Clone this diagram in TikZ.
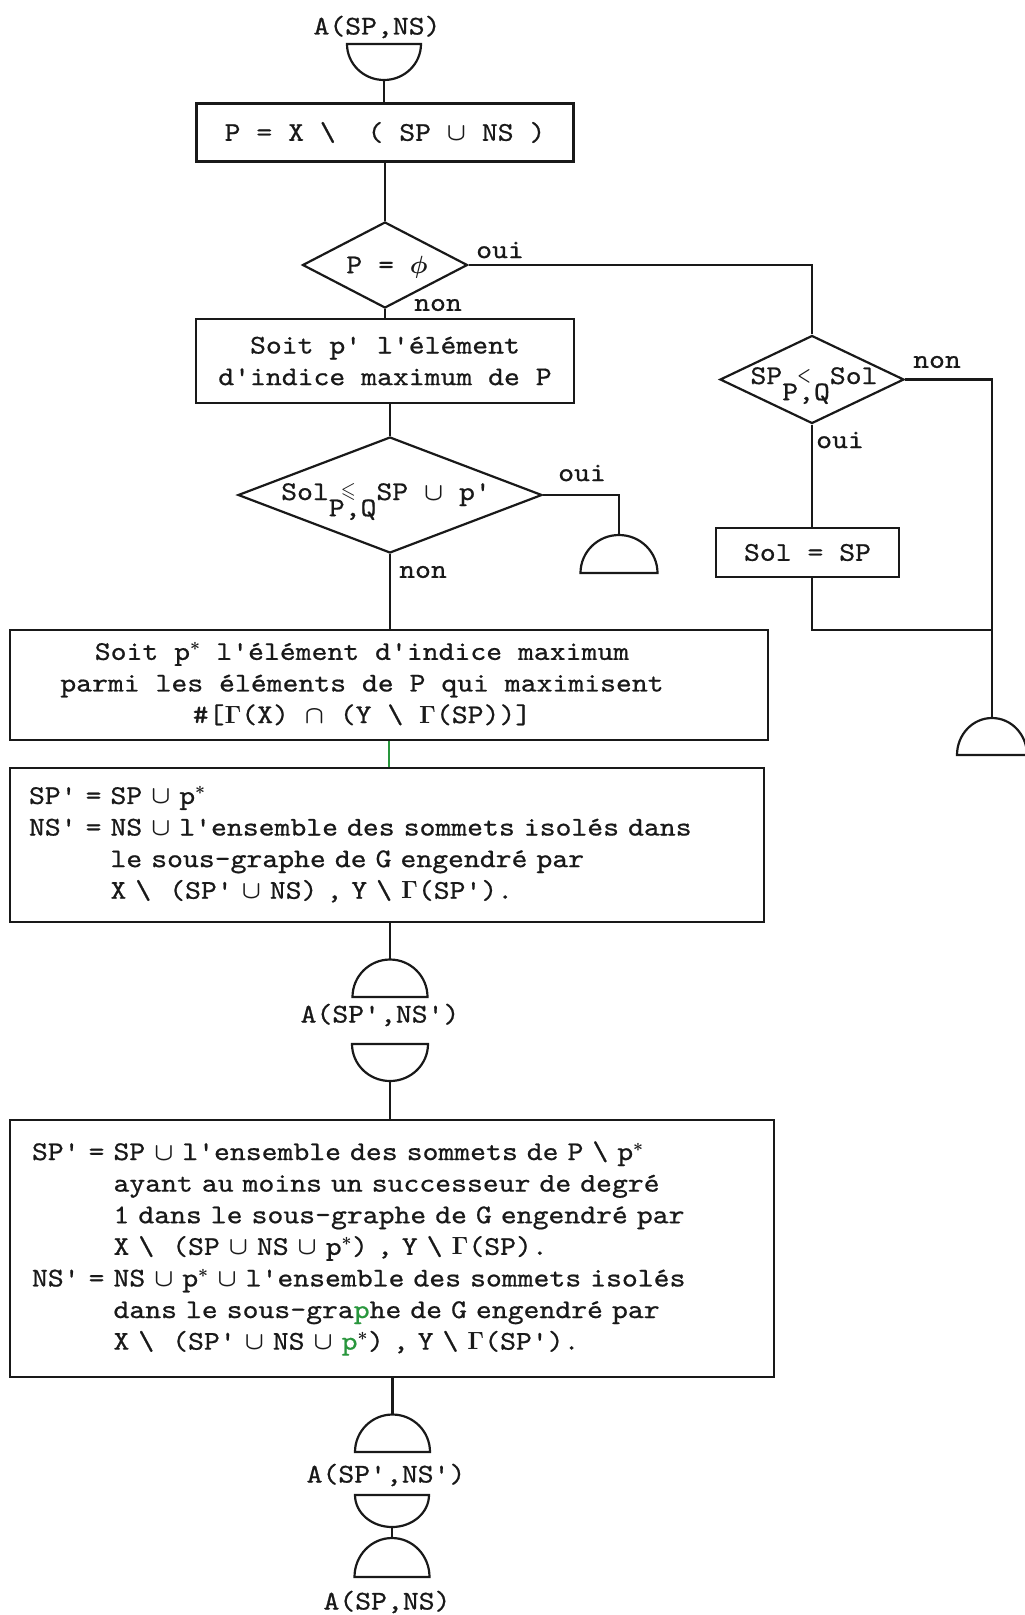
\documentclass[tikz,border=0pt]{standalone}
\usepackage{graphicx}
\usepackage{amssymb}
\usepackage{fontspec}
\setmonofont{lmmono10-regular.otf}[FakeStretch=1.12, FakeBold=0.7]
\usetikzlibrary{shapes.geometric,calc}
\definecolor{ink}{RGB}{25,25,25}
\definecolor{scan}{RGB}{40,150,60}
\newcommand\bs{\textbackslash{}}
\newcommand\un{\ensuremath{\cup}}
\newcommand\inter{\ensuremath{\cap}}
\newcommand\Gam{\ensuremath{\Gamma}}
\newcommand\ps{p\ensuremath{^{\ast}}}
\newcommand\gps{\textcolor{scan}{p}\ensuremath{^{\ast}}}
% #1 shift of the small symbol, #2 symbol, #3 width, #4 height
\newcommand\relPQ[4]{\makebox[0pt][l]{\hspace{#1}\raisebox{3pt}{\resizebox{#3}{#4}{$#2$}}}\raisebox{-0.6em}{P,Q}}
% cup: flat top at #2, round bottom; dome: flat bottom at #2, round top
\newcommand\cupshape[4]{\draw[wire] (#1-#3,#2) arc[start angle=180,end angle=360,x radius=#3pt,y radius=#4pt] -- cycle;}
\newcommand\domeshape[4]{\draw[wire] (#1-#3,#2) arc[start angle=180,end angle=0,x radius=#3pt,y radius=#4pt] -- cycle;}
\tikzset{
  every node/.style={font=\ttfamily\fontsize{27}{31.6}\selectfont\boldmath, text=ink},
  wire/.style={draw=ink, line width=2.2pt},
  procbox/.style={draw=ink, line width=2.2pt, rectangle, inner sep=0pt},
  decision/.style={draw=ink, line width=2.2pt, diamond, inner sep=0pt},
  lbl/.style={inner sep=0pt},
}
\begin{document}
\begin{tikzpicture}[x=1pt,y=-1pt]
\fill[white] (0,0) rectangle (1025,1615);
\useasboundingbox (0,0) rectangle (1025,1615);

% ---------- top entry ----------
\node[lbl] (t0) at (377,27) {A(SP,NS)};
\cupshape{384}{44}{37}{36}
\coordinate (cup1) at (384,80);

\node[procbox, minimum width=377, minimum height=58] (b1) at (385,132.5) {P = X \bs{}~ ( SP \un{} NS )};

\node[decision, minimum width=165, minimum height=86] (d1) at (385,265) {};
\node[lbl] (d1t) at (387,267) {P = $\phi$};
\node[lbl] (oui1) at (500,250) {oui};
\node[lbl] (non1) at (438,305) {non};

\node[procbox, minimum width=378, minimum height=84, align=center] (b2) at (385,361) {Soit p' l'élément\\d'indice maximum de P};

\node[decision, minimum width=304, minimum height=116] (d2) at (390,495) {};
\node[lbl, anchor=base] (d2t) at (386,500) {Sol\relPQ{0.45em}{\leqslant}{15pt}{14pt}SP \un{} p'};
\node[lbl] (oui2) at (582,473) {oui};
\node[lbl] (non2) at (423,572) {non};
\domeshape{619}{573}{38.5}{38}
\coordinate (dome2) at (619,535);

% ---------- right branch ----------
\node[decision, minimum width=184, minimum height=88] (d3) at (812,379.5) {};
\node[lbl, anchor=base] (d3t) at (814,384) {SP\relPQ{0.55em}{<}{14pt}{12pt}Sol};
\node[lbl] (non3) at (937,362) {non};
\node[lbl] (oui3) at (840,440) {oui};
\node[procbox, minimum width=183, minimum height=49] (sol) at (807.5,552.5) {Sol = SP};
\coordinate (joinR) at (992,630);
\domeshape{992}{755}{35}{37}
\coordinate (domeR) at (992,718);

% ---------- lower boxes ----------
\node[procbox, minimum width=758, minimum height=110] (b3) at (389,685) {};
\node[lbl, align=center] (b3t) at (362,684) {Soit \ps{} l'élément d'indice maximum\\parmi les éléments de P qui maximisent\\\#[\Gam(X) \inter{} (Y \bs{} \Gam(SP))]};

\node[procbox, minimum height=154, text width=716, inner xsep=19, align=left] (b4) at (387,845) {\begin{tabular}{@{}l@{}l@{}}
SP' = \mbox{}& SP \un{} \ps\\
NS' = \mbox{}& NS \un{} l'ensemble des sommets isolés dans\\
 & le sous-graphe de G engendré par\\
 & X \bs{}~ (SP' \un{} NS) , Y \bs{} \Gam(SP').
\end{tabular}};

\domeshape{390}{997}{37.5}{37.5}
\coordinate (dome3) at (390,959.5);
\node[lbl] (t1) at (380,1015) {A(SP',NS')};
\cupshape{390}{1044}{38}{37}
\coordinate (cup4) at (390,1081);

\node[procbox, minimum height=257, text width=720, inner xsep=22, align=left] (b5) at (392,1248.5) {\begin{tabular}{@{}l@{}l@{}}
SP' = \mbox{}& SP \un{} l'ensemble des sommets de P \bs{} \ps\\
 & ayant au moins un successeur de degré\\
 & 1 dans le sous-graphe de G engendré par\\
 & X \bs{}~ (SP \un{} NS \un{} \ps) , Y \bs{} \Gam(SP).\\
NS' = \mbox{}& NS \un{} \ps{} \un{} l'ensemble des sommets isolés\\
 & dans le sous-gra\textcolor{scan}{p}he de G engendré par\\
 & X \bs{}~ (SP' \un{} NS \un{} \gps) , Y \bs{} \Gam(SP').
\end{tabular}};

\domeshape{392.5}{1452}{37.5}{37.5}
\coordinate (dome5) at (392.5,1414.5);
\node[lbl] (t2) at (386,1475) {A(SP',NS')};
\cupshape{392}{1495}{37}{32}
\coordinate (cup6) at (392,1527);
\domeshape{392}{1577}{37.5}{39}
\coordinate (dome7) at (392,1538);
\node[lbl] (t3) at (387,1602) {A(SP,NS)};

% ---------- connectors ----------
\draw[wire] (cup1) -- (cup1 |- b1.north);
\draw[wire] (b1.south) -- (d1.north);
\draw[wire] (d1.south) -- (b2.north);
\draw[wire] (d2.north |- b2.south) -- (d2.north);
\draw[wire] (d2.south) -- (d2.south |- b3.north);
\draw[wire] (d2.east) -| (dome2);
\draw[wire, draw=scan] (b3.south) -- (b3.south |- b4.north);
\draw[wire] (b4.south -| dome3) -- (dome3);
\draw[wire] (cup4) -- (cup4 |- b5.north);
\draw[wire] (b5.south -| dome5) -- (dome5);
\draw[wire] (cup6) -- (dome7);

\draw[wire] (d1.east) -| (d3.north);
\draw[wire] (d3.east) -| (domeR);
\draw[wire] (d3.south) -- (d3.south |- sol.north);
\draw[wire] (sol.south -| d3.south) |- (joinR);
\end{tikzpicture}
\end{document}
